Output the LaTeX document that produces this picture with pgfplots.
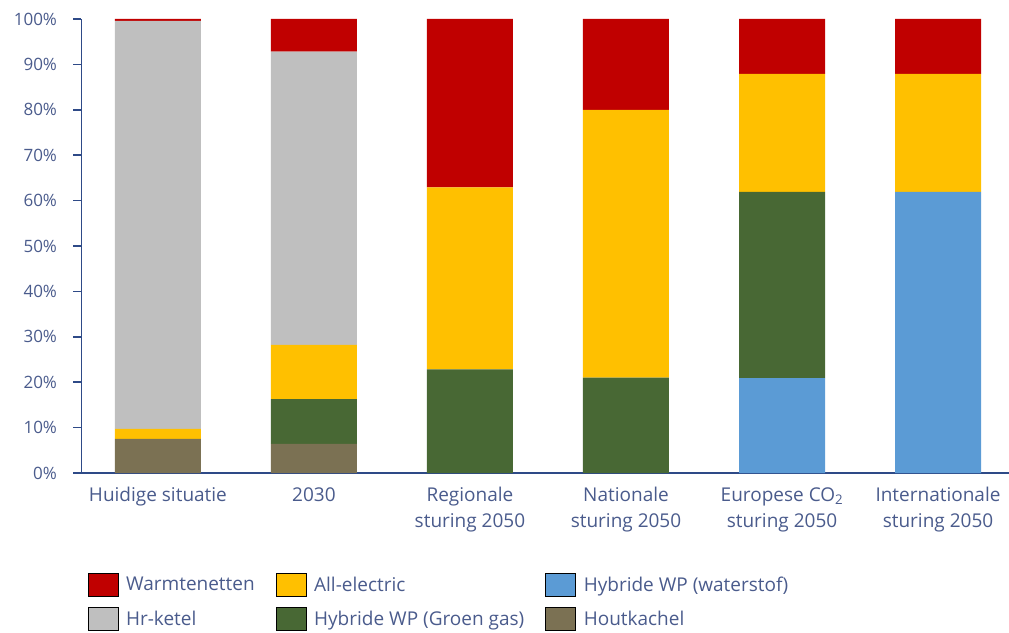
\documentclass[border=0pt]{standalone}
\usepackage{fontspec}
\setmainfont{Open Sans}
\usepackage{pgfplots}
\usepackage{pgfplotstable}
\pgfplotsset{compat=1.18}
\definecolor{cWarm}{HTML}{C00000}
\definecolor{cHr}{HTML}{BFBFBF}
\definecolor{cAE}{HTML}{FFC000}
\definecolor{cGroen}{HTML}{486834}
\definecolor{cWater}{HTML}{5B9BD5}
\definecolor{cHout}{HTML}{7B7153}
\definecolor{cText}{HTML}{4A5B8C}
\definecolor{cAxis}{HTML}{2E4A87}
\pgfplotstableread{
x Hout Water Groen AE Hr Warm
0 7.5 0 0 2.2 89.9 0.4
1 6.4 0 9.9 11.9 64.6 7.2
2 0 0 22.8 40.1 0 37.1
3 0 0 21.0 59.0 0 20.0
4 0 20.9 41.0 26.0 0 12.1
5 0 61.9 0 26.0 0 12.1
}\datatable
\begin{document}
\begin{tikzpicture}
\begin{axis}[
  at={(0,0)}, anchor=south west,
  scale only axis, width=927.5pt, height=454pt,
  ybar stacked, bar width=86pt,
  xmin=-0.49, xmax=5.455, ymin=0, ymax=100,
  axis x line*=bottom, axis y line*=left,
  axis line style={cAxis, line width=1.5pt, -},
  xtick=data,
  xticklabels={Huidige situatie, 2030, {Regionale\\sturing 2050}, {Nationale\\sturing 2050}, {Europese CO\textsubscript{2}\\sturing 2050}, {Internationale\\sturing 2050}},
  x tick label style={align=center, font=\fontsize{19}{26}\selectfont, text=cText, yshift=-3pt},
  major x tick style={draw=none},
  ytick={0,10,...,100},
  yticklabel={\pgfmathprintnumber{\tick}\%},
  /pgf/number format/assume math mode=true,
  y tick label style={font=\fontsize{17}{20}\selectfont, text=cText, xshift=-13pt},
  tick align=outside,
  major y tick style={cAxis, line width=1.5pt},
  major tick length=8pt,
  legend columns=3,
  legend cell align=left,
  legend style={at={(0,0)}, anchor=north west, xshift=3pt, yshift=-98pt, draw=none, fill=none,
    font=\fontsize{19}{22}\selectfont, text=cText,
    row sep=10.5pt,
    /tikz/every odd column/.append style={column sep=6pt},
    /tikz/every even column/.append style={column sep=19pt}},
  legend image code/.code={\fill[#1] (0pt,-11.5pt) rectangle (30pt,11.5pt);},
]
\addplot[fill=cHout, draw=none, forget plot] table[x=x, y=Hout]{\datatable};
\addplot[fill=cWater, draw=none, forget plot] table[x=x, y=Water]{\datatable};
\addplot[fill=cGroen, draw=none, forget plot] table[x=x, y=Groen]{\datatable};
\addplot[fill=cAE, draw=none, forget plot] table[x=x, y=AE]{\datatable};
\addplot[fill=cHr, draw=none, forget plot] table[x=x, y=Hr]{\datatable};
\addplot[fill=cWarm, draw=none, forget plot] table[x=x, y=Warm]{\datatable};
\addlegendimage{fill=cWarm}\addlegendentry{Warmtenetten}
\addlegendimage{fill=cAE}\addlegendentry{All-electric}
\addlegendimage{fill=cWater}\addlegendentry{Hybride WP (waterstof)}
\addlegendimage{fill=cHr}\addlegendentry{Hr-ketel}
\addlegendimage{fill=cGroen}\addlegendentry{Hybride WP (Groen gas)}
\addlegendimage{fill=cHout}\addlegendentry{Houtkachel}
\end{axis}
\pgfresetboundingbox
\path[use as bounding box] (-81.5pt,-159pt) rectangle (927.5pt,473pt);
\end{tikzpicture}
\end{document}
